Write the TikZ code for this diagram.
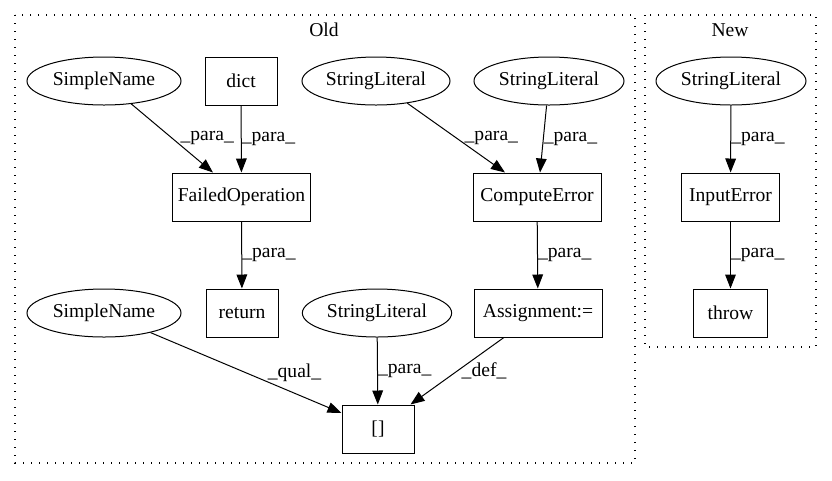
\documentclass[tikz,border=0pt]{standalone}
\usepackage{fontspec}
\setmainfont{Liberation Serif}
\usetikzlibrary{arrows.meta,shapes.geometric}
\begin{document}
\begin{tikzpicture}[x=0.75pt,y=-0.75pt,
  every node/.style={font=\fontsize{14.7}{17.6}\selectfont},
  box/.style={draw,line width=0.75pt,rectangle,minimum height=36pt,inner sep=0pt},
  oval/.style={draw,line width=0.75pt,ellipse,minimum height=36pt,inner sep=0pt},
  conn/.style={line width=0.75pt,-{Triangle[length=10.5pt,width=8pt]}},
  lbl/.style={inner sep=0pt,anchor=west},
  cluster/.style={line width=0.9pt,dash pattern=on 1pt off 5pt}]
\useasboundingbox (0,0) rectangle (832,480);
% clusters
\draw[cluster] (15,15) rectangle (635,463);
\draw[cluster] (645,15) rectangle (816,347);
\node (oldlbl) at (324,30) {Old};
\node (newlbl) at (730,30) {New};
% Old nodes
\node[oval,minimum width=115.5pt] (sn1) at (104,81) {SimpleName};
\node[box,minimum width=54pt] (dict) at (241,81) {dict};
\node[oval,minimum width=111pt] (sl1) at (376,81) {StringLiteral};
\node[oval,minimum width=112.5pt] (sl2) at (549,81) {StringLiteral};
\node[box,minimum width=104pt] (fo) at (241.5,197) {FailedOperation};
\node[box,minimum width=96pt] (ce) at (537,197) {ComputeError};
\node[oval,minimum width=115.5pt] (sn2) at (104,313) {SimpleName};
\node[box,minimum width=54pt] (ret) at (242,313) {return};
\node[oval,minimum width=112pt] (sl3) at (377,313) {StringLiteral};
\node[box,minimum width=96pt] (asg) at (538,313) {Assignment:=};
\node[box,minimum width=54pt] (br) at (378,429) {[]};
% New nodes
\node[oval,minimum width=112.5pt] (sl4) at (731,81) {StringLiteral};
\node[box,minimum width=74pt] (ie) at (730.5,197) {InputError};
\node[box,minimum width=55pt] (thr) at (730.5,313) {throw};
% edges
\draw[conn] (sn1) -- ([xshift=-21.4pt]fo.north) node[lbl,pos=0.5,xshift=6pt] {\_para\_};
\draw[conn] (dict) -- (fo) node[lbl,pos=0.5] {\_para\_};
\draw[conn] (sl1) -- ([xshift=-24pt]ce.north) node[lbl,pos=0.5,xshift=6pt] {\_para\_};
\draw[conn] (sl2) -- ([xshift=2.25pt]ce.north) node[lbl,pos=0.5] {\_para\_};
\draw[conn] (fo) -- (ret) node[lbl,pos=0.5] {\_para\_};
\draw[conn] (ce) -- (asg) node[lbl,pos=0.5] {\_para\_};
\draw[conn] (sn2) -- ([yshift=12pt]br.west) node[lbl,pos=0.5,xshift=16pt] {\_qual\_};
\draw[conn] (sl3) -- (br) node[lbl,pos=0.5] {\_para\_};
\draw[conn] (asg) -- ([xshift=-3pt]br.north east) node[lbl,pos=0.5,xshift=3pt] {\_def\_};
\draw[conn] (sl4) -- (ie) node[lbl,pos=0.5] {\_para\_};
\draw[conn] (ie) -- (thr) node[lbl,pos=0.5] {\_para\_};
\end{tikzpicture}
\end{document}
